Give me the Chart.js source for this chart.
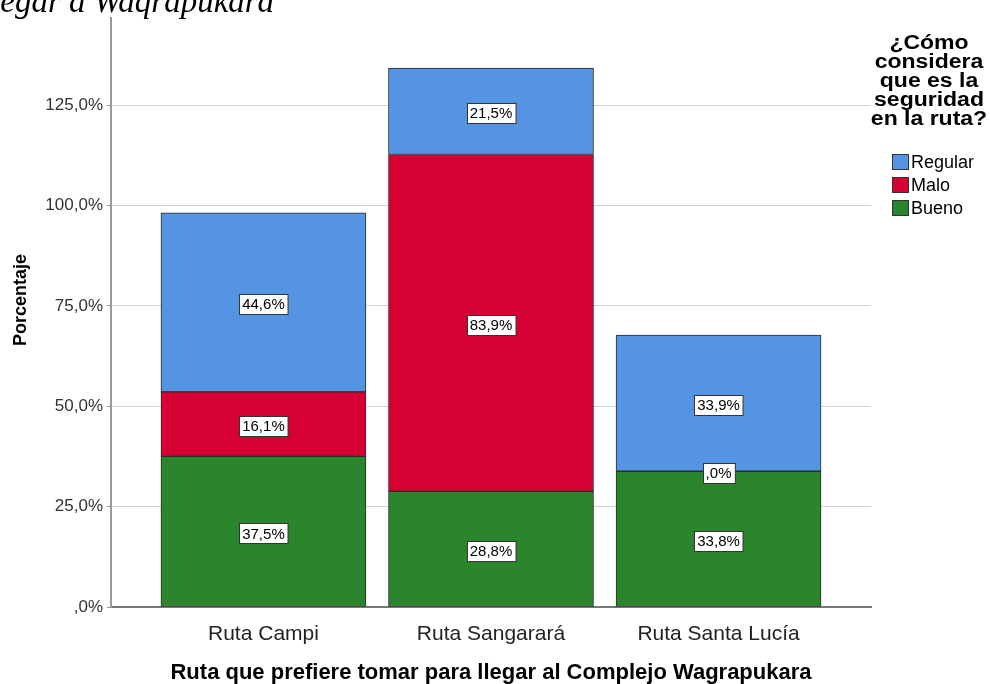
<!DOCTYPE html>
<html>
<head>
<meta charset="utf-8">
<script src="https://cdn.jsdelivr.net/npm/chart.js@4.4.1/dist/chart.umd.min.js"></script>
<style>
  html, body { margin: 0; padding: 0; background: #fff; overflow: hidden; }
  #wrap { position: relative; width: 990px; height: 684px; }
  #chart { position: absolute; left: 0; top: 0; }
  #cap { position: absolute; left: -18px; top: -17px; font: italic 33px "Liberation Serif", serif; white-space: nowrap; color: #000; }
</style>
</head>
<body>
<div id="wrap">
  <canvas id="chart" width="990" height="684"></canvas>
  <div id="cap">llegar a Waqrapukara</div>
</div>
<script>
const rutas = ["Ruta Campi", "Ruta Sangarará", "Ruta Santa Lucía"];
const bueno = [37.5, 28.8, 33.8];
const malo = [16.1, 83.9, 0.0];
const regular = [44.6, 21.5, 33.9];
const yTicks = [0, 25, 50, 75, 100, 125];
const legendTitle = ["¿Cómo", "considera", "que es la", "seguridad", "en la ruta?"];
const yTitle = "Porcentaje";

const FONT = '"Liberation Sans", Arial, sans-serif';
const colors = { Regular: "#5594e2", Malo: "#d60032", Bueno: "#2a852c" };

// formato SPSS: coma decimal y sin cero inicial
function fmt(v) {
  let s = v.toFixed(1).replace(".", ",");
  if (s.startsWith("0,")) s = s.slice(1);
  return s + "%";
}

function pts(arr) {
  return arr.map((v, i) => ({ x: i, y: v }));
}

// etiquetas en recuadro blanco dentro de cada segmento
const boxLabels = {
  id: "boxLabels",
  afterDatasetsDraw(chart) {
    const ctx = chart.ctx;
    ctx.save();
    ctx.font = "15px " + FONT;
    ctx.textAlign = "center";
    ctx.textBaseline = "middle";
    chart.data.datasets.forEach((ds, di) => {
      const meta = chart.getDatasetMeta(di);
      meta.data.forEach((bar, i) => {
        const txt = fmt(ds.data[i].y);
        const cy = (bar.y + bar.base) / 2 + 2;
        const w = ctx.measureText(txt).width + 6;
        const h = 20;
        const x0 = Math.round(bar.x - w / 2) + 0.5;
        const y0 = Math.round(cy - h / 2) + 0.5;
        ctx.fillStyle = "#fff";
        ctx.fillRect(x0, y0, w, h);
        ctx.strokeStyle = "#333";
        ctx.lineWidth = 1;
        ctx.strokeRect(x0, y0, w, h);
        ctx.fillStyle = "#000";
        ctx.fillText(txt, bar.x, cy + 1);
      });
    });
    ctx.restore();
  }
};

// leyenda a la derecha con titulo de varias lineas + titulo del eje Y
const sideLegend = {
  id: "sideLegend",
  afterDraw(chart) {
    const ctx = chart.ctx;
    ctx.save();
    ctx.fillStyle = "#000";
    ctx.textBaseline = "middle";
    ctx.textAlign = "center";
    ctx.font = "bold 20px " + FONT;
    legendTitle.forEach((line, i) => {
      ctx.save();
      ctx.translate(929, 43 + i * 19);
      ctx.scale(1.15, 1);
      ctx.fillText(line, 0, 0);
      ctx.restore();
    });
    const items = ["Regular", "Malo", "Bueno"];
    ctx.font = "18px " + FONT;
    ctx.textAlign = "left";
    items.forEach((name, i) => {
      const y = 162 + i * 23;
      ctx.fillStyle = colors[name];
      ctx.fillRect(892.5, y - 7.5, 16, 15);
      ctx.strokeStyle = "#333";
      ctx.lineWidth = 1;
      ctx.strokeRect(892.5, y - 7.5, 16, 15);
      ctx.fillStyle = "#000";
      ctx.fillText(name, 911, y + 1);
    });
    // titulo del eje Y
    ctx.save();
    ctx.translate(21, 300);
    ctx.rotate(-Math.PI / 2);
    ctx.textAlign = "center";
    ctx.font = "bold 18px " + FONT;
    ctx.fillText(yTitle, 0, 0);
    ctx.restore();
    ctx.restore();
  }
};

function barSet(label, arr) {
  return {
    label: label,
    data: pts(arr),
    backgroundColor: colors[label],
    borderColor: "#2b2b2b",
    borderWidth: 1,
    borderSkipped: false,
    barThickness: 205
  };
}

new Chart(document.getElementById("chart"), {
  type: "bar",
  data: {
    datasets: [barSet("Bueno", bueno), barSet("Malo", malo), barSet("Regular", regular)]
  },
  options: {
    responsive: false,
    animation: false,
    layout: { padding: { top: 18, right: 119, left: 0, bottom: 0 } },
    plugins: { legend: { display: false }, tooltip: { enabled: false } },
    scales: {
      x: {
        type: "linear",
        stacked: true,
        offset: false,
        min: -0.67,
        max: 2.67,
        afterBuildTicks: (s) => { s.ticks = rutas.map((r, i) => ({ value: i })); },
        afterFit: (s) => { s.height = 77; },
        grid: { display: false, offset: false },
        border: { color: "#777", width: 2 },
        ticks: {
          padding: 7,
          color: "#222",
          font: { family: FONT, size: 21 },
          callback: (v) => rutas[v]
        },
        title: {
          display: true,
          text: "Ruta que prefiere tomar para llegar al Complejo Wagrapukara",
          color: "#000",
          font: { family: FONT, size: 22, weight: "bold", lineHeight: 1 },
          padding: { top: 0, bottom: 0 }
        }
      },
      y: {
        stacked: true,
        min: 0,
        max: 146.7,
        afterBuildTicks: (s) => { s.ticks = yTicks.map((v) => ({ value: v })); },
        afterFit: (s) => { s.width = 111; },
        grid: { color: "#d4d4d4", tickColor: "#999", tickLength: 4 },
        border: { color: "#999", width: 2 },
        ticks: {
          padding: 4,
          color: "#333",
          font: { family: FONT, size: 17 },
          callback: (v) => fmt(v)
        },
        title: { display: false }
      }
    }
  },
  plugins: [boxLabels, sideLegend]
});
</script>
</body>
</html>
